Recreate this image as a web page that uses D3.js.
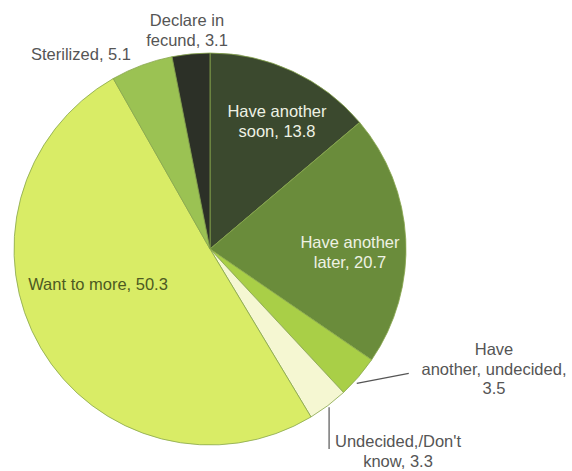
<!DOCTYPE html>
<html>
<head>
<meta charset="utf-8">
<script src="https://cdn.jsdelivr.net/npm/d3@7/dist/d3.min.js"></script>
<style>
  html, body { margin: 0; padding: 0; background: #ffffff; }
  svg { display: block; }
  text { font-family: "Liberation Sans", Arial, sans-serif; font-size: 16.5px; }
</style>
</head>
<body>
<svg id="chart" width="572" height="471"></svg>
<script>
// Fertility preference shares (%), clockwise from 12 o'clock
const categories = [
  "Have another soon",
  "Have another later",
  "Have another, undecided",
  "Undecided,/Don't know",
  "Want to more",
  "Sterilized",
  "Declare in fecund"
];
const values = [13.8, 20.7, 3.5, 3.3, 50.3, 5.1, 3.1];
const colors = ["#3b492e", "#6a8c3b", "#a9cf47", "#f5f7d2", "#d9ec66", "#9bc253", "#2c3027"];

// Label lines for each slice
const labelLines = [
  ["Have another", "soon, 13.8"],
  ["Have another", "later, 20.7"],
  ["Have", "another, undecided,", "3.5"],
  ["Undecided,/Don't", "know, 3.3"],
  ["Want to more, 50.3"],
  ["Sterilized, 5.1"],
  ["Declare in", "fecund, 3.1"]
];

const data = categories.map((c, i) => ({ name: c, value: values[i], color: colors[i], lines: labelLines[i] }));

const svg = d3.select("#chart");
const cx = 210, cy = 249, radius = 196;

const pie = d3.pie().value(d => d.value).sort(null);
const arcs = pie(data);
const arc = d3.arc().innerRadius(0).outerRadius(radius);

const g = svg.append("g").attr("transform", `translate(${cx},${cy})`);

g.selectAll("path.slice")
  .data(arcs)
  .enter().append("path")
  .attr("class", "slice")
  .attr("d", arc)
  .attr("fill", d => d.data.color)
  .attr("stroke", "#88a64d")
  .attr("stroke-width", 0.8)
  .attr("stroke-linejoin", "round");

// point on the circle at a given radius and pie angle
function polar(r, a) { return [r * Math.sin(a), -r * Math.cos(a)]; }
function mid(d) { return (d.startAngle + d.endAngle) / 2; }

// label placement: anchor offsets relative to the pie center, line height
const lh = 19.5;
const placement = [
  { x: 67,  y: -132, color: "#eef2e4" },
  { x: 140, y: -1,   color: "#eef2e4" },
  { x: 284, y: 106,  color: "#555555" },
  { x: 188, y: 198,  color: "#555555" },
  { x: -112, y: 41,  color: "#4d5a22" },
  { x: -129, y: -189, color: "#555555" },
  { x: -23, y: -223, color: "#555555" }
];

arcs.forEach((d, i) => {
  const p = placement[i];
  const t = g.append("text")
    .attr("text-anchor", "middle")
    .attr("fill", p.color);
  d.data.lines.forEach((ln, k) => {
    t.append("tspan").attr("x", p.x).attr("y", p.y + k * lh).text(ln);
  });
});

// leader lines for the two thin slices at lower right
const lead2 = polar(radius + 3, mid(arcs[2]) + 0.03);
g.append("path")
  .attr("d", d3.line()([lead2, [lead2[0] + 52, lead2[1] - 10]]))
  .attr("stroke", "#555")
  .attr("stroke-width", 1.2)
  .attr("fill", "none");

const lead3 = polar(radius + 2, mid(arcs[3]));
g.append("path")
  .attr("d", d3.line()([lead3, [lead3[0], 200]]))
  .attr("stroke", "#555")
  .attr("stroke-width", 1.2)
  .attr("fill", "none");
</script>
</body>
</html>
